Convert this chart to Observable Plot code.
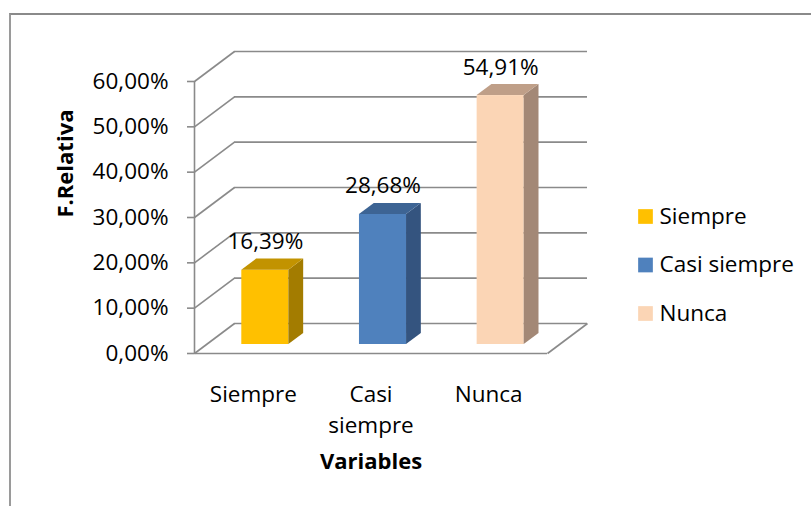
<!DOCTYPE html>
<html>
<head>
<meta charset="utf-8">
<script src="https://cdn.jsdelivr.net/npm/d3@7"></script>
<script src="https://cdn.jsdelivr.net/npm/@observablehq/plot@0.6"></script>
<style>
  html, body { margin: 0; padding: 0; background: #fff; overflow: hidden; }
  #wrap { position: relative; width: 811px; height: 506px; }
  #border { position: absolute; left: 9px; top: 13px; width: 900px; height: 600px;
            border-top: 2px solid #8a8a8a; border-left: 2px solid #9a9a9a; pointer-events: none; }
  #chart { position: absolute; left: 0; top: 0; }
</style>
</head>
<body>
<div id="wrap"><div id="border"></div><div id="chart"></div></div>
<script>
// ---- data ----
const categories = ["Siempre", "Casi siempre", "Nunca"];
const values = [16.39, 28.68, 54.91];
const labels = ["16,39%", "28,68%", "54,91%"];
const yTicks = [0, 10, 20, 30, 40, 50, 60];
const yTickLabels = ["0,00%", "10,00%", "20,00%", "30,00%", "40,00%", "50,00%", "60,00%"];
const frontColors = ["#FFC000", "#4F81BD", "#FBD5B5"];
const sideColors = ["#A37C00", "#34547F", "#A38876"];
const topColors = ["#C29300", "#3D6494", "#BF9F88"];

// ---- layout ----
const W = 811, H = 506;
const mL = 194, mR = 264, mT = 81, mB = 153;
const yMax = 60;
const depthPxX = 40, depthPxY = 30;          // oblique depth of the 3D box
const DU = depthPxX / ((W - mL - mR) / categories.length);
const DV = depthPxY / ((H - mT - mB) / yMax);
const d0 = 0.3, d1 = 0.67;                    // bar depth span
const hw = 0.2;                               // bar half width (band units)
const grid = "#8a8a8a";
const font = "'Open Sans', sans-serif";

const rows = categories.map((c, i) => ({c, i, v: values[i], label: labels[i]}));

// side and top faces as 2-point quad strips
const sidePts = rows.flatMap(r => [d0, d1].map(d => ({
  c: r.c, i: r.i,
  x1: r.i + 0.5 + hw + d * DU, y1: d * DV,
  x2: r.i + 0.5 + hw + d * DU, y2: r.v + d * DV
})));
const topPts = rows.flatMap(r => [d0, d1].map(d => ({
  c: r.c, i: r.i,
  x1: r.i + 0.5 - hw + d * DU, y1: r.v + d * DV,
  x2: r.i + 0.5 + hw + d * DU, y2: r.v + d * DV
})));

const colorOf = arr => d => arr[d.i];

const plot = Plot.plot({
  width: W, height: H,
  marginLeft: mL, marginRight: mR, marginTop: mT, marginBottom: mB,
  x: {type: "linear", domain: [0, categories.length], axis: null},
  y: {type: "linear", domain: [0, yMax], axis: null},
  style: {fontFamily: font, fontSize: "22.5px", color: "black", background: "transparent", overflow: "visible"},
  marks: [
    // back wall gridlines
    Plot.ruleY(yTicks, {y: t => t + DV, x1: DU, x2: categories.length + DU, stroke: grid, strokeWidth: 1.6}),
    // side wall diagonals
    Plot.link(yTicks, {x1: 0, y1: t => t, x2: DU, y2: t => t + DV, stroke: grid, strokeWidth: 1.6}),
    // floor front edge and right diagonal
    Plot.ruleY([0], {x1: 0, x2: categories.length, stroke: grid, strokeWidth: 1.6}),
    Plot.link([0], {x1: categories.length, y1: 0, x2: categories.length + DU, y2: DV, stroke: grid, strokeWidth: 1.6}),
    // vertical axis line
    Plot.ruleX([0], {y1: 0, y2: yMax, stroke: grid, strokeWidth: 1.6}),
    Plot.axisY({ticks: yTicks, tickFormat: (d, i) => yTickLabels[yTicks.indexOf(d)], tickSize: 7, tickPadding: 19,
                stroke: grid, strokeWidth: 1.6, fill: "black", fontSize: 22.5, label: null}),
    // bars: front, side, top
    Plot.rect(rows, {x1: d => d.i + 0.5 - hw + d0 * DU, x2: d => d.i + 0.5 + hw + d0 * DU,
                     y1: d0 * DV, y2: d => d.v + d0 * DV, fill: colorOf(frontColors)}),
    Plot.area(sidePts, {x1: "x1", y1: "y1", x2: "x2", y2: "y2", z: "c", fill: colorOf(sideColors), curve: "linear"}),
    Plot.area(topPts, {x1: "x1", y1: "y1", x2: "x2", y2: "y2", z: "c", fill: colorOf(topColors), curve: "linear"}),
    // value labels
    Plot.text(rows, {x: d => d.i + 0.5 + d0 * DU, y: d => d.v + d0 * DV, text: "label",
                     lineAnchor: "bottom", dy: -21, fontSize: 22.5, fill: "black"}),
    // category labels
    Plot.text(rows, {x: d => d.i + 0.5, y: 0, text: d => d.c.replace(" ", "\n"),
                     lineAnchor: "top", dy: 27, lineHeight: 1.36, fontSize: 22.5, fill: "black"}),
    // axis titles
    Plot.text(["Variables"], {frameAnchor: "bottom", text: d => d, lineAnchor: "bottom", dy: 115,
                              fontSize: 22, fontWeight: "bold", fill: "black"}),
    Plot.text(["F.Relativa"], {frameAnchor: "left", text: d => d, rotate: -90, dx: -129,
                               fontSize: 22, fontWeight: "bold", fill: "black"}),
    // legend
    ...categories.map((c, i) => Plot.dot([c], {frameAnchor: "top-right", dx: 98, dy: 135 + i * 48.5,
                               symbol: "square", r: 8.3, fill: frontColors[i], stroke: null})),
    ...categories.map((c, i) => Plot.text([c], {frameAnchor: "top-right", dx: 112, dy: 135 + i * 48.5,
                               text: d => d, textAnchor: "start", lineAnchor: "middle", fontSize: 22.5, fill: "black"}))
  ]
});
document.getElementById("chart").appendChild(plot);
</script>
</body>
</html>
